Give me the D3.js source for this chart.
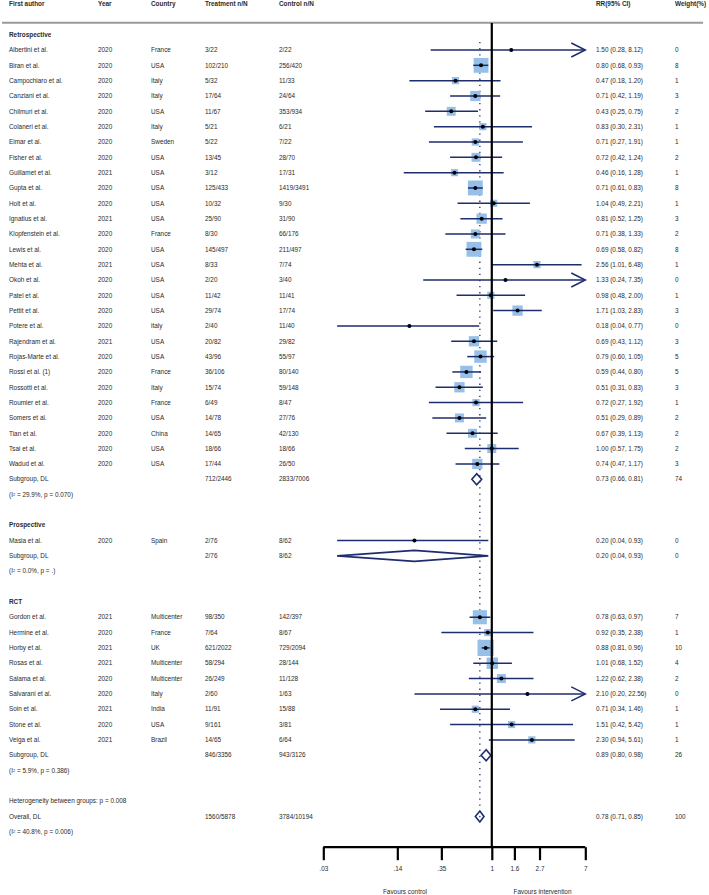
<!DOCTYPE html>
<html>
<head>
<meta charset="utf-8">
<script src="https://cdn.jsdelivr.net/npm/d3@7"></script>
<style>
  html, body { margin: 0; padding: 0; background: #fff; }
  svg { display: block; font-family: "Liberation Sans", Arial, Helvetica, sans-serif; }
</style>
</head>
<body>
<svg id="chart" width="709" height="895"></svg>
<script>
// ---------------- DATA ----------------
const sectionNames = ["Retrospective", "Prospective", "RCT"];
const sectionSizes = [28, 1, 9];

const authors = [
  "Albertini et al.", "Biran et al.", "Campochiaro et al.", "Canziani et al.", "Chilmuri et al.",
  "Colaneri et al.", "Eimar et al.", "Fisher et al.", "Guillamet et al.", "Gupta et al.",
  "Holt et al.", "Ignatius et al.", "Klopfenstein et al.", "Lewis et al.", "Mehta et al.",
  "Okoh et al.", "Patel et al.", "Pettit et al.", "Potere et al.", "Rajendram et al.",
  "Rojas-Marte et al.", "Rossi et al. (1)", "Rossotti et al.", "Roumier et al.", "Somers et al.",
  "Tian et al.", "Tsai et al.", "Wadud et al.",
  "Masia et al.",
  "Gordon et al.", "Hermine et al.", "Horby et al.", "Rosas et al.", "Salama et al.",
  "Salvarani et al.", "Soin et al.", "Stone et al.", "Veiga et al."
];
const years = [
  2020, 2020, 2020, 2020, 2020, 2020, 2020, 2020, 2021, 2020,
  2020, 2021, 2020, 2020, 2021, 2020, 2020, 2020, 2020, 2021,
  2020, 2020, 2020, 2020, 2020, 2020, 2020, 2020,
  2020,
  2021, 2020, 2021, 2021, 2020, 2020, 2021, 2020, 2021
];
const countries = [
  "France", "USA", "Italy", "Italy", "USA", "Italy", "Sweden", "USA", "USA", "USA",
  "USA", "USA", "France", "USA", "USA", "USA", "USA", "USA", "italy", "USA",
  "USA", "France", "Italy", "France", "USA", "China", "USA", "USA",
  "Spain",
  "Multicenter", "France", "UK", "Multicenter", "Multicenter", "Italy", "India", "USA", "Brazil"
];
const treatment = [
  "3/22", "102/210", "5/32", "17/64", "11/67", "5/21", "5/22", "13/45", "3/12", "125/433",
  "10/32", "25/90", "8/30", "145/497", "8/33", "2/20", "11/42", "29/74", "2/40", "20/82",
  "43/96", "36/106", "15/74", "6/49", "14/78", "14/65", "18/66", "17/44",
  "2/76",
  "98/350", "7/64", "621/2022", "58/294", "26/249", "2/60", "11/91", "9/161", "14/65"
];
const control = [
  "2/22", "256/420", "11/33", "24/64", "353/934", "6/21", "7/22", "28/70", "17/31", "1419/3491",
  "9/30", "31/90", "66/176", "211/497", "7/74", "3/40", "11/41", "17/74", "11/40", "29/82",
  "55/97", "80/140", "59/148", "8/47", "27/76", "42/130", "18/66", "26/50",
  "8/62",
  "142/397", "8/67", "729/2094", "28/144", "11/128", "1/63", "15/88", "3/81", "6/64"
];
const rr = [
  1.50, 0.80, 0.47, 0.71, 0.43, 0.83, 0.71, 0.72, 0.46, 0.71,
  1.04, 0.81, 0.71, 0.69, 2.56, 1.33, 0.98, 1.71, 0.18, 0.69,
  0.79, 0.59, 0.51, 0.72, 0.51, 0.67, 1.00, 0.74,
  0.20,
  0.78, 0.92, 0.88, 1.01, 1.22, 2.10, 0.71, 1.51, 2.30
];
const lower = [
  0.28, 0.68, 0.18, 0.42, 0.25, 0.30, 0.27, 0.42, 0.16, 0.61,
  0.49, 0.52, 0.38, 0.58, 1.01, 0.24, 0.48, 1.03, 0.04, 0.43,
  0.60, 0.44, 0.31, 0.27, 0.29, 0.39, 0.57, 0.47,
  0.04,
  0.63, 0.35, 0.81, 0.68, 0.62, 0.20, 0.34, 0.42, 0.94
];
const upper = [
  8.12, 0.93, 1.20, 1.19, 0.75, 2.31, 1.91, 1.24, 1.28, 0.83,
  2.21, 1.25, 1.33, 0.82, 6.48, 7.35, 2.00, 2.83, 0.77, 1.12,
  1.05, 0.80, 0.83, 1.92, 0.89, 1.13, 1.75, 1.17,
  0.93,
  0.97, 2.38, 0.96, 1.52, 2.38, 22.56, 1.46, 5.42, 5.61
];
const weights = [
  0, 8, 1, 3, 2, 1, 1, 2, 1, 8,
  1, 3, 2, 8, 1, 0, 1, 3, 0, 3,
  5, 5, 3, 1, 2, 2, 2, 3,
  0,
  7, 1, 10, 4, 2, 0, 1, 1, 1
];

const subTreatment = ["712/2446", "2/76", "846/3356"];
const subControl = ["2833/7006", "8/62", "943/3126"];
const subRR = [0.73, 0.20, 0.89];
const subLower = [0.66, 0.04, 0.80];
const subUpper = [0.81, 0.93, 0.98];
const subWeight = [74, 0, 26];
const subI2 = ["29.9%", "0.0%", "5.9%"];
const subP = ["0.070", ".", "0.386"];

const overallTreatment = "1560/5878";
const overallControl = "3784/10194";
const overallRR = 0.78, overallLower = 0.71, overallUpper = 0.85, overallWeight = 100;
const overallI2 = "40.8%", overallP = "0.006";
const betweenP = "0.008";

const tickValues = [0.03, 0.14, 0.35, 1, 1.6, 2.7, 7];
const tickLabels = [".03", ".14", ".35", "1", "1.6", "2.7", "7"];
const headers = ["First author", "Year", "Country", "Treatment n/N", "Control n/N", "RR(95% CI)", "Weight(%)"];

// ---------------- LAYOUT ----------------
const svg = d3.select("#chart");
const navy = "#1e2d6e";
const boxFill = "#96c0e8";
const textCol = "#2a2a2a";
const fs = 6.4;

const colX = [9, 98, 151, 205, 279, 596, 675];
const x = d3.scaleLog().domain([0.03, 7]).range([323.3, 585.3]);
const row = d3.scaleLinear().domain([0, 55]).range([4, 847.2]);

const fmt = d3.format(".2f");
const ciText = (m, l, u) => `${fmt(m)} (${fmt(l)}, ${fmt(u)})`;

function txt(xp, yp, s, opts = {}) {
  return svg.append("text")
    .attr("x", xp).attr("y", yp).attr("dy", "0.35em")
    .attr("font-size", opts.size || fs)
    .attr("font-weight", opts.bold ? "bold" : "normal")
    .attr("text-anchor", opts.anchor || "start")
    .attr("fill", textCol)
    .text(s);
}
function i2Text(xp, yp, i2, p) {
  const t = svg.append("text").attr("x", xp).attr("y", yp).attr("dy", "0.35em")
    .attr("font-size", fs).attr("fill", textCol);
  t.append("tspan").text("(I");
  t.append("tspan").attr("font-size", 4).attr("dy", "-0.25em").text("2");
  t.append("tspan").attr("dy", "0.12em").text(` = ${i2}, p = ${p})`);
}

// header
headers.forEach((h, k) => txt(colX[k], row(0), h, { bold: true }));
svg.append("line").attr("x1", 2).attr("x2", 703).attr("y1", 22.7).attr("y2", 22.7)
  .attr("stroke", "#9a9a9a").attr("stroke-width", 2);

// reference lines (drawn first, behind)
const gRef = svg.append("g");
const gMarks = svg.append("g");

gRef.append("line").attr("x1", x(overallRR)).attr("x2", x(overallRR))
  .attr("y1", 42).attr("y2", 810)
  .attr("stroke", navy).attr("stroke-width", 1.3).attr("stroke-dasharray", "1.3,4.8");

const boxSide = w => 3 + 4.2 * Math.sqrt(w);

function diamond(m, l, u, yc, h = 5.5) {
  gMarks.append("path")
    .attr("d", `M${x(l)},${yc} L${x(m)},${yc - h} L${x(u)},${yc} L${x(m)},${yc + h} Z`)
    .attr("fill", "#fff").attr("stroke", navy).attr("stroke-width", 1.6);
}

let i = 2, s = 0;
sectionNames.forEach((name, g) => {
  txt(colX[0], row(i), name, { bold: true });
  i++;
  for (let k = 0; k < sectionSizes[g]; k++, s++, i++) {
    const yc = row(i);
    txt(colX[0], yc, authors[s]);
    txt(colX[1], yc, years[s]);
    txt(colX[2], yc, countries[s]);
    txt(colX[3], yc, treatment[s]);
    txt(colX[4], yc, control[s]);
    txt(colX[5], yc, ciText(rr[s], lower[s], upper[s]));
    txt(colX[6], yc, weights[s]);

    const side = boxSide(weights[s]);
    gMarks.append("rect")
      .attr("x", x(rr[s]) - side / 2).attr("y", yc - side / 2)
      .attr("width", side).attr("height", side).attr("fill", boxFill);
    const [d0, d1] = x.domain();
    const l = Math.max(lower[s], d0), u = Math.min(upper[s], d1);
    gMarks.append("line").attr("x1", x(l)).attr("x2", x(u)).attr("y1", yc).attr("y2", yc)
      .attr("stroke", navy).attr("stroke-width", 1.5);
    if (upper[s] > d1) {
      gMarks.append("path")
        .attr("d", `M${x(d1) - 14},${yc - 7} L${x(d1)},${yc} L${x(d1) - 14},${yc + 7}`)
        .attr("fill", "none").attr("stroke", navy).attr("stroke-width", 1.5);
    }
    gMarks.append("circle").attr("cx", x(rr[s])).attr("cy", yc).attr("r", 2)
      .attr("fill", "#000");
  }
  // subgroup
  const ys = row(i);
  txt(colX[0], ys, "Subgroup, DL");
  txt(colX[3], ys, subTreatment[g]);
  txt(colX[4], ys, subControl[g]);
  txt(colX[5], ys, ciText(subRR[g], subLower[g], subUpper[g]));
  txt(colX[6], ys, subWeight[g]);
  diamond(subRR[g], subLower[g], subUpper[g], ys);
  i++;
  i2Text(colX[0], row(i), subI2[g], subP[g]);
  i++;
  i++; // blank
});

// overall
txt(colX[0], row(i), `Heterogeneity between groups: p = ${betweenP}`);
i++;
const yo = row(i);
txt(colX[0], yo, "Overall, DL");
txt(colX[3], yo, overallTreatment);
txt(colX[4], yo, overallControl);
txt(colX[5], yo, ciText(overallRR, overallLower, overallUpper));
txt(colX[6], yo, overallWeight);
diamond(overallRR, overallLower, overallUpper, yo, 5.5);
gMarks.append("circle").attr("cx", x(overallRR)).attr("cy", yo).attr("r", 0.8).attr("fill", navy);
i++;
i2Text(colX[0], row(i), overallI2, overallP);

// null line
const axisY = row(55);
svg.append("line").attr("x1", x(1)).attr("x2", x(1)).attr("y1", 23).attr("y2", axisY)
  .attr("stroke", "#000").attr("stroke-width", 2.2);

// axis
const axis = d3.axisBottom(x).tickValues(tickValues)
  .tickFormat((d, k) => tickLabels[k]).tickSize(13).tickPadding(6);
const ga = svg.append("g").attr("transform", `translate(0,${axisY})`).call(axis);
ga.select(".domain").attr("d", `M${x(0.03)},0H${x(7)}`).attr("stroke", "#000").attr("stroke-width", 2.2);
ga.selectAll(".tick line").attr("stroke", "#000").attr("stroke-width", 2.2);
ga.selectAll(".tick text").attr("font-size", fs).attr("fill", textCol)
  .attr("font-family", "Liberation Sans, Arial, sans-serif");

txt(405, 892, "Favours control", { anchor: "middle" });
txt(542.5, 892, "Favours intervention", { anchor: "middle" });
</script>
</body>
</html>
